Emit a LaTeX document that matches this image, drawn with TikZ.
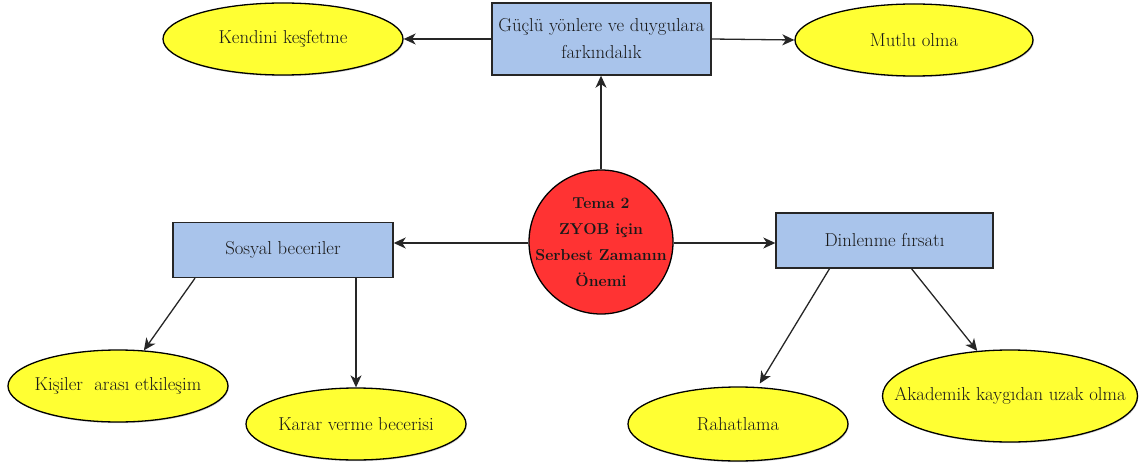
\documentclass[tikz,border=0pt]{standalone}
\usepackage{fontspec}
\usetikzlibrary{arrows.meta,shadows,shapes.geometric}
\definecolor{boxblue}{RGB}{169,196,235}
\definecolor{elly}{RGB}{255,255,51}
\definecolor{cred}{RGB}{255,51,51}
\begin{document}
\begin{tikzpicture}[x=1pt,y=-1pt,
  txt/.style={font=\fontsize{18.7}{27}\selectfont, text=black!90, align=center, inner sep=0pt},
  bluebox/.style={txt, draw=black!85, line width=1.4pt, fill=boxblue, rectangle},
  yell/.style={draw=black, line width=1.3pt, fill=elly, ellipse, inner sep=0pt,
     drop shadow={shadow xshift=0.8pt, shadow yshift=-1.2pt, opacity=0.35}},
  arr/.style={draw=black!85, line width=1.3pt, -{Stealth[length=12pt,width=11pt,inset=3.5pt]}}
]
\useasboundingbox (0,0) rectangle (1147,465);
% nodes
\node[bluebox, minimum width=219pt, minimum height=72pt] (top) at (601.5,39) {Güçlü yönlere ve duygulara\\farkındalık};
\node[yell, minimum width=240pt, minimum height=72pt] (ken) at (283,39) {};
\node[txt] (kent) at (ken) {Kendini keşfetme};
\node[yell, minimum width=238pt, minimum height=72pt] (mut) at (914,40) {};
\node[txt] (mutt) at (mut) {Mutlu olma};
\node[circle, draw=black, line width=1.3pt, fill=cred, minimum size=144pt, inner sep=0pt] (c) at (601,242) {};
\node[txt, font=\fontsize{15.8}{26}\selectfont\bfseries] (ct) at (c) {Tema 2\\ZYOB için\\Serbest Zamanın\\Önemi};
\node[bluebox, minimum width=220pt, minimum height=55pt] (sos) at (283,250) {Sosyal beceriler};
\node[bluebox, minimum width=217pt, minimum height=55pt] (din) at (884.5,240.5) {Dinlenme fırsatı};
\node[yell, minimum width=220pt, minimum height=72pt] (kis) at (118,386) {};
\node[txt] (kist) at (kis) {Kişiler~ arası etkileşim};
\node[yell, minimum width=220pt, minimum height=72pt] (kar) at (356,424) {};
\node[txt] (kart) at (kar) {Karar verme becerisi};
\node[yell, minimum width=220pt, minimum height=74pt] (rah) at (738,424) {};
\node[txt] (raht) at (rah) {Rahatlama};
\node[yell, minimum width=255pt, minimum height=92pt] (aka) at (1010,396) {};
\node[txt] (akat) at (aka) {Akademik kaygıdan uzak olma};
% connectors
\draw[arr] (c.north) -- (top.south -| c.north);
\draw[arr] (top.west) -- (ken.east);
\draw[arr] (top.east) -- (mut.west);
\coordinate (cl) at ([yshift=-1pt]c.west);
\coordinate (cr) at ([yshift=-1pt]c.east);
\draw[arr] (cl) -- (cl -| sos.east);
\draw[arr] (cr) -- (cr -| din.west);
\draw[arr] ([xshift=-88pt]sos.south) -- (kis.54);
\draw[arr] (sos.south -| kar.north) -- (kar.north);
\draw[arr, shorten >=4pt] ([xshift=-55pt]din.south) -- (rah.62);
\draw[arr] ([xshift=27pt]din.south) -- (aka.126);
\end{tikzpicture}
\end{document}
